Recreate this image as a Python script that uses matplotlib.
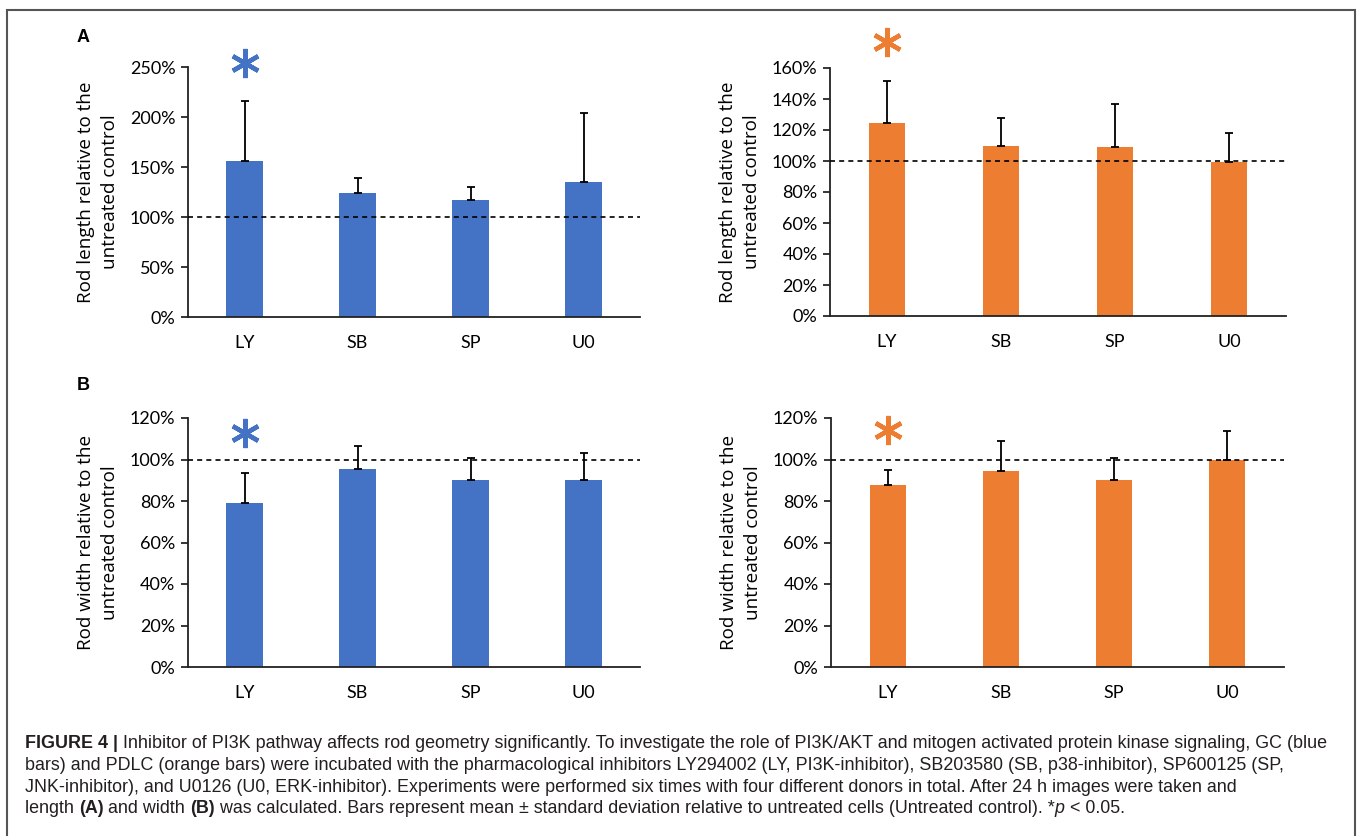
import numpy as np
import matplotlib
matplotlib.use("Agg")
import matplotlib.pyplot as plt
from matplotlib.patches import Rectangle
import matplotlib.transforms as mtransforms

# --- data ---
categories = ["LY", "SB", "SP", "U0"]

length_gc = [156, 124, 117, 135]      # blue, panel A
length_gc_sd = [60, 15, 13, 69]
length_pdlc = [124.5, 110, 109, 99.5]  # orange, panel A
length_pdlc_sd = [27, 18, 27.5, 18.5]

width_gc = [79, 95.5, 90, 90]          # blue, panel B
width_gc_sd = [14.5, 11, 10.5, 13]
width_pdlc = [87.5, 94.5, 90, 100]     # orange, panel B
width_pdlc_sd = [7.5, 14.5, 10.5, 13.5]

ticks_len_gc = [0, 50, 100, 150, 200, 250]
ticks_len_pdlc = [0, 20, 40, 60, 80, 100, 120, 140, 160]
ticks_width = [0, 20, 40, 60, 80, 100, 120]

significant = "LY"

caption_lines = [
    [("FIGURE 4 | ", "bold", "normal"),
     ("Inhibitor of PI3K pathway affects rod geometry significantly. To investigate the role of PI3K/AKT and "
      "mitogen activated protein kinase signaling, GC (blue", "normal", "normal")],
    [("bars) and PDLC (orange bars) were incubated with the pharmacological inhibitors LY294002 (LY, PI3K-inhibitor), "
      "SB203580 (SB, p38-inhibitor), SP600125 (SP,", "normal", "normal")],
    [("JNK-inhibitor), and U0126 (U0, ERK-inhibitor). Experiments were performed six times with four different "
      "donors in total. After 24 h images were taken and", "normal", "normal")],
    [("length ", "normal", "normal"), ("(A)", "bold", "normal"), (" and width ", "normal", "normal"),
     ("(B)", "bold", "normal"),
     (" was calculated. Bars represent mean \u00b1 standard deviation relative to untreated cells "
      "(Untreated control). *", "normal", "normal"),
     ("p", "normal", "italic"), (" < 0.05.", "normal", "normal")],
]

BLUE = "#4472C4"
ORANGE = "#ED7D31"
W, H = 1360, 836

fig = plt.figure(figsize=(W / 100, H / 100), dpi=100)
fig.patch.set_facecolor("white")


def px_axes(left, right, top, bottom):
    return fig.add_axes([left / W, 1 - bottom / H, (right - left) / W, (bottom - top) / H])


def panel(ax, means, sd, color, ticks, ylabel, star_y):
    x = np.arange(len(categories))
    ax.bar(x, means, width=0.32, color=color, zorder=2)
    ax.errorbar(x, means, yerr=[np.zeros(len(sd)), sd], fmt="none", ecolor="black",
                elinewidth=1.3, capsize=3, capthick=1.3, zorder=3)
    ax.axhline(100, color="black", ls=(0, (3, 2.5)), lw=1.2, zorder=4)
    ax.set_xlim(-0.5, len(categories) - 0.5)
    ax.set_ylim(0, ticks[-1])
    ax.set_yticks(ticks)
    ax.set_yticklabels([f"{t}%" for t in ticks], fontfamily="Lato", fontsize=13)
    ax.set_xticks(x)
    ax.set_xticklabels(categories, fontfamily="Lato", fontsize=13)
    ax.tick_params(axis="x", length=0, pad=13)
    ax.tick_params(axis="y", length=5, width=1.1, direction="out", pad=4)
    for s in ["top", "right"]:
        ax.spines[s].set_visible(False)
    for s in ["left", "bottom"]:
        ax.spines[s].set_linewidth(1.3)
        ax.spines[s].set_color("#222222")
    ax.set_ylabel(ylabel, fontfamily="Open Sans", fontsize=13.6, linespacing=1.4, labelpad=8)
    # significance asterisk
    trans = mtransforms.blended_transform_factory(ax.transData, ax.transAxes)
    ax.plot([categories.index(significant)], [star_y], marker=(6, 2, 0), markersize=21,
            markeredgewidth=3.2, color=color, transform=trans, clip_on=False)


len_label = "Rod length relative to the\nuntreated control"
wid_label = "Rod width relative to the\nuntreated control"

axA1 = px_axes(188, 640, 67, 317)
panel(axA1, length_gc, length_gc_sd, BLUE, ticks_len_gc, len_label, 1.016)
axA2 = px_axes(830, 1286, 68, 316)
panel(axA2, length_pdlc, length_pdlc_sd, ORANGE, ticks_len_pdlc, len_label, 1.105)
axB1 = px_axes(188, 640, 418, 667)
panel(axB1, width_gc, width_gc_sd, BLUE, ticks_width, wid_label, 0.94)
axB2 = px_axes(831, 1284, 418, 667)
panel(axB2, width_pdlc, width_pdlc_sd, ORANGE, ticks_width, wid_label, 0.952)

fig.text(77 / W, 1 - 37 / H, "A", fontfamily="Liberation Sans", fontweight="bold",
         fontsize=13, ha="left", va="center")
fig.text(77 / W, 1 - 386 / H, "B", fontfamily="Liberation Sans", fontweight="bold",
         fontsize=13, ha="left", va="center")

# outer frame
fig.add_artist(Rectangle((7 / W, -0.01), (1355 - 7) / W, 1 - 10 / H + 0.01,
                         transform=fig.transFigure, fill=False, edgecolor="#555555", lw=1.5))

# caption with mixed styles
renderer = fig.canvas.get_renderer()
y0 = 744
for i, line in enumerate(caption_lines):
    xpos = 25
    ypos = y0 + i * 21.6
    for txt, weight, style in line:
        t = fig.text(xpos / W, 1 - ypos / H, txt, fontfamily="Liberation Sans", fontsize=12.9,
                     fontweight=weight, fontstyle=style, color="#231f20", ha="left", va="center")
        xpos += t.get_window_extent(renderer).width

fig.savefig("out.png", dpi=100)
